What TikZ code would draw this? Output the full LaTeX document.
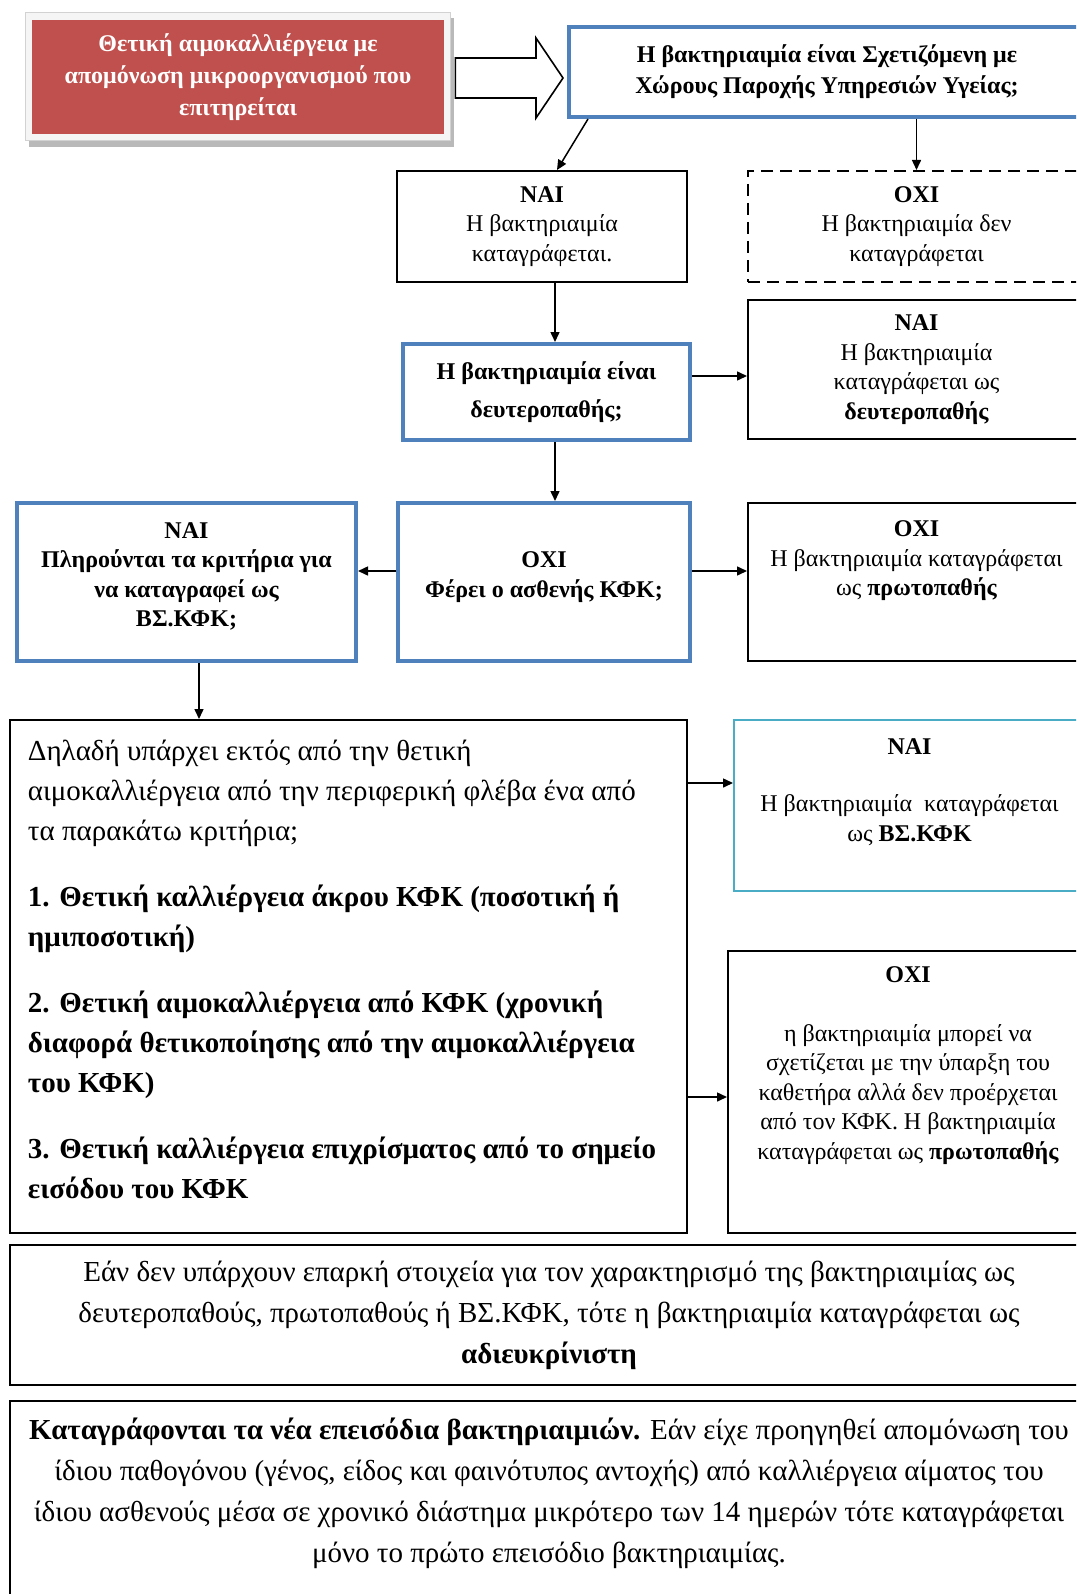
\documentclass[tikz,border=0pt]{standalone}
\usepackage{fontspec}
\setmainfont{Liberation Serif}
\usetikzlibrary{arrows.meta,calc}
\definecolor{blueC}{HTML}{4F81BD}
\definecolor{cyanC}{HTML}{4BACC6}
\definecolor{redC}{HTML}{C0504D}
\newcommand{\fs}[2]{\fontsize{#1}{#2}\selectfont}
\begin{document}
\begin{tikzpicture}[x=0.5pt,y=-0.5pt,
  sz/.style 2 args={minimum width=#1*0.5pt, minimum height=#2*0.5pt},
  bx/.style={draw=black, line width=1pt, rectangle, align=center, inner sep=0pt, font=\fs{12}{14.75}},
  bbx/.style={bx, draw=blueC, line width=2pt},
  dbx/.style={bx, dash pattern=on 6pt off 3.5pt},
  arr/.style={-{Triangle[length=5pt,width=4.5pt]}, line width=0.75pt},
  blockarrow/.style={draw=black, fill=white, line width=0.8pt, line join=miter}]
\useasboundingbox (0,0) rectangle (1076,1594);
\clip (0,0) rectangle (1076,1594);
\fill[white] (0,0) rectangle (1076,1594);

% red starting box with frame and shadow
\fill[gray!55] (29,18) rectangle (454,147);
\filldraw[fill=gray!8, draw=gray!35, line width=0.5pt] (25,13) rectangle (450,141);
\node[fill=redC, text=white, font=\bfseries\fs{12}{16}, align=center, inner sep=0pt, sz={412}{114}] (red) at (238,77)
  {Θετική αιμοκαλλιέργεια με\\απομόνωση μικροοργανισμού που\\επιτηρείται};

% first question
\node[bbx, sz={516}{90}, font=\bfseries\fs{12}{15.5}] (q1) at (827,72)
  {Η βακτηριαιμία είναι Σχετιζόμενη με\\Χώρους Παροχής Υπηρεσιών Υγείας;};

% block arrow between red box and q1
\coordinate (bs) at ($(red.east)+(11,1)$);
\coordinate (bt) at ($(q1.west)+(-4,6)$);
\draw[blockarrow] ($(bs)+(0,-20)$) -- ($(bt)+(-27,-20)$) -- ($(bt)+(-27,-40)$) -- (bt)
  -- ($(bt)+(-27,40)$) -- ($(bt)+(-27,20)$) -- ($(bs)+(0,20)$) -- cycle;

\node[bx, sz={290}{111}] (nai1) at (542,226.5)
  {\textbf{ΝΑΙ}\\Η βακτηριαιμία\\καταγράφεται.};
\node[dbx, sz={337}{111}] (oxi1) at (916.5,226.5)
  {\textbf{ΟΧΙ}\\Η βακτηριαιμία δεν\\καταγράφεται};

\node[bbx, sz={287}{96}, font=\bfseries\fs{12}{19}] (q2) at (546.5,392)
  {Η βακτηριαιμία είναι\\δευτεροπαθής;};
\node[bx, sz={337}{139}] (nai2) at (916.5,369.5)
  {\textbf{ΝΑΙ}\\Η βακτηριαιμία\\καταγράφεται ως\\\textbf{δευτεροπαθής}};

\node[bbx, sz={292}{158}, font=\bfseries\fs{12}{15}] (q3) at (544,582)
  {ΟΧΙ\\Φέρει ο ασθενής ΚΦΚ;\\[-8pt]\mbox{}};
\node[bbx, sz={339}{158}, font=\bfseries\fs{12}{14.75}] (q4) at (186.5,582)
  {ΝΑΙ\\Πληρούνται τα κριτήρια για\\να καταγραφεί ως\\ΒΣ.ΚΦΚ;\\[-7.25pt]\mbox{}};
\node[bx, sz={337}{158}] (oxi2) at (916.5,582)
  {\textbf{ΟΧΙ}\\Η βακτηριαιμία καταγράφεται\\ως \textbf{πρωτοπαθής}\\[8.75pt]\mbox{}};

\node[bx, sz={677}{513}] (crit) at (348.5,976.5) {};
\node[anchor=west, align=left, inner sep=0pt, font=\fs{14.5}{20}] (critt) at ($(crit.west)+(18.5,-7)$)
  {Δηλαδή υπάρχει εκτός από την θετική\\
   αιμοκαλλιέργεια από την περιφερική φλέβα ένα από\\
   τα παρακάτω κριτήρια;\\[13pt]
   \textbf{1. Θετική καλλιέργεια άκρου ΚΦΚ (ποσοτική ή}\\
   \textbf{ημιποσοτική)}\\[13pt]
   \textbf{2. Θετική αιμοκαλλιέργεια από ΚΦΚ (χρονική}\\
   \textbf{διαφορά θετικοποίησης από την αιμοκαλλιέργεια}\\
   \textbf{του ΚΦΚ)}\\[13pt]
   \textbf{3. Θετική καλλιέργεια επιχρίσματος από το σημείο}\\
   \textbf{εισόδου του ΚΦΚ}};

\node[bx, draw=cyanC, sz={351}{171}] (nai3) at (909.5,805.5)
  {\textbf{ΝΑΙ}\\[14pt]Η βακτηριαιμία\ \ καταγράφεται\\ως \textbf{ΒΣ.ΚΦΚ}\\[1pt]\mbox{}};
\node[bx, sz={360}{282}] (oxi3) at (908,1092)
  {\textbf{ΟΧΙ}\\[14.75pt]η βακτηριαιμία μπορεί να\\σχετίζεται με την ύπαρξη του\\καθετήρα αλλά δεν προέρχεται\\από τον ΚΦΚ. Η βακτηριαιμία\\καταγράφεται ως \textbf{πρωτοπαθής}\\[14.5pt]\mbox{}};

\node[bx, sz={1078}{140}, font=\fs{14.5}{20.5}] (und) at (549,1315)
  {Εάν δεν υπάρχουν επαρκή στοιχεία για τον χαρακτηρισμό της βακτηριαιμίας ως\\
   δευτεροπαθούς, πρωτοπαθούς ή ΒΣ.ΚΦΚ, τότε η βακτηριαιμία καταγράφεται ως\\
   \textbf{αδιευκρίνιστη}};
\node[bx, sz={1078}{209}, font=\fs{14.5}{20.5}] (note) at (549,1505.5)
  {\textbf{Καταγράφονται τα νέα επεισόδια βακτηριαιμιών.} Εάν είχε προηγηθεί απομόνωση του\\
   ίδιου παθογόνου (γένος, είδος και φαινότυπος αντοχής) από καλλιέργεια αίματος του\\
   ίδιου ασθενούς μέσα σε χρονικό διάστημα μικρότερο των 14 ημερών τότε καταγράφεται\\
   μόνο το πρώτο επεισόδιο βακτηριαιμίας.\\[-5.5pt]\mbox{}};

% connectors
\coordinate (ax) at (555,0);
\coordinate (ax2) at (199,0);
\coordinate (ay1) at (0,376);
\coordinate (ay2) at (0,571);
\coordinate (ay3) at (0,783);
\coordinate (ay4) at (0,1097);
\draw[arr] ($(q1.south west)+(21,0)$) -- ($(nai1.north)+(15,0)$);
\draw[arr] (q1.south -| oxi1.north) -- (oxi1.north);
\draw[arr] (nai1.south -| ax) -- (q2.north -| ax);
\draw[arr] (q2.east |- ay1) -- (nai2.west |- ay1);
\draw[arr] (q2.south -| ax) -- (q3.north -| ax);
\draw[arr] (q3.west |- ay2) -- (q4.east |- ay2);
\draw[arr] (q3.east |- ay2) -- (oxi2.west |- ay2);
\draw[arr] (q4.south -| ax2) -- (crit.north -| ax2);
\draw[arr] (crit.east |- ay3) -- (nai3.west |- ay3);
\draw[arr] (crit.east |- ay4) -- (oxi3.west |- ay4);
\end{tikzpicture}
\end{document}
